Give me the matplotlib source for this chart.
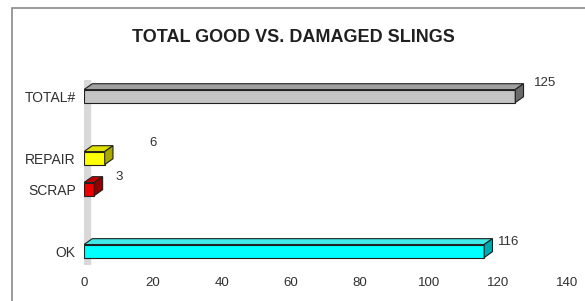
import matplotlib
matplotlib.use("Agg")
import matplotlib.pyplot as plt
from matplotlib.patches import Polygon, Rectangle

categories = ["OK", "SCRAP", "REPAIR", "TOTAL#"]
values = [116, 3, 6, 125]
slots = [0, 2, 3, 5]
colors = ["#00ffff", "#ee0000", "#ffff00", "#c4c4c4"]
side_colors = ["#00a8b0", "#900000", "#a8a800", "#6a6a6a"]
top_colors = ["#40e8e8", "#c00000", "#e0e000", "#a0a0a0"]
label_offsets = [(24, 9), (25, 12), (48, 15), (30, 13)]
xticks = [0, 20, 40, 60, 80, 100, 120, 140]

plt.rcParams['font.family'] = ['Liberation Sans', 'DejaVu Sans']

fig = plt.figure(figsize=(5.85, 3.01), dpi=100)
fig.patch.set_facecolor("white")
fig.patches.append(Rectangle((12 / 585, -0.1), 1.2, (1 - 8 / 301) + 0.1, transform=fig.transFigure,
                             fill=False, edgecolor="#8a8a8a", linewidth=1.2))

ax = fig.add_axes([84 / 585, 36 / 301, 483 / 585, 185 / 301])
ax.set_xlim(0, 140)
ax.set_ylim(-0.45, 5.52)

h = 0.42
dx, dy = 2.4, 0.19
# back wall
ax.axvspan(0, 1.8, color="#d8d8d8", zorder=0)

for v, s, c, sc, tc in zip(values, slots, colors, side_colors, top_colors):
    ax.barh(s, v, height=h, color=c, edgecolor="#202020", linewidth=0.8, zorder=3)
    top = Polygon([(0, s + h / 2), (dx, s + h / 2 + dy), (v + dx, s + h / 2 + dy), (v, s + h / 2)],
                  closed=True, facecolor=tc, edgecolor="#202020", linewidth=0.8, zorder=3)
    side = Polygon([(v, s - h / 2), (v + dx, s - h / 2 + dy), (v + dx, s + h / 2 + dy), (v, s + h / 2)],
                   closed=True, facecolor=sc, edgecolor="#202020", linewidth=0.8, zorder=3)
    ax.add_patch(top)
    ax.add_patch(side)

for v, s, off in zip(values, slots, label_offsets):
    ax.annotate(str(v), xy=(v, s), xytext=off, textcoords="offset pixels",
                ha="center", va="center", fontsize=9.5, color="#303030")

ax.set_yticks(slots)
ax.set_yticklabels(categories)
ax.set_xticks(xticks)
ax.tick_params(axis="both", length=0, colors="#303030")
ax.tick_params(axis="x", pad=9, labelsize=9.5)
ax.tick_params(axis="y", pad=6, labelsize=10)
for sp in ax.spines.values():
    sp.set_visible(False)

fig.text(293 / 585, 1 - 38 / 301, "TOTAL GOOD VS. DAMAGED SLINGS", ha="center", va="center",
         fontsize=13, fontweight="bold", color="#202020")

fig.savefig("out.png", dpi=100)
